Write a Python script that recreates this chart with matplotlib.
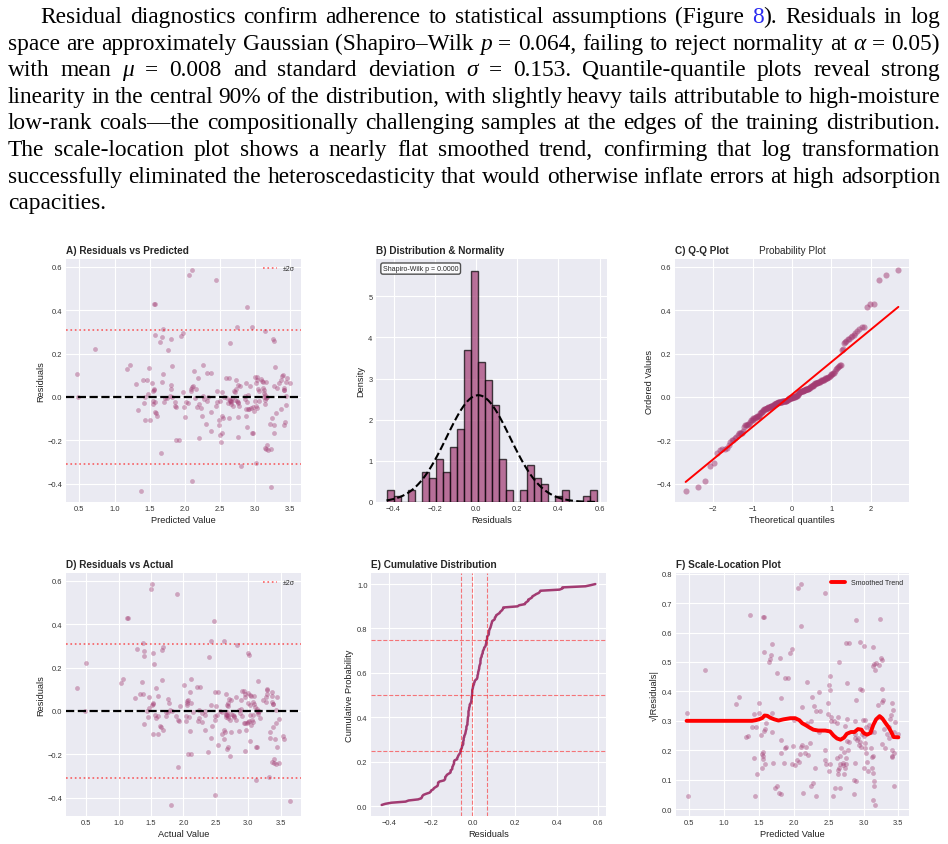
import re
from statistics import NormalDist

import matplotlib
matplotlib.use("Agg")
import matplotlib.pyplot as plt
import numpy as np

# (predicted, residual) pairs; actual = predicted - residual
PREDICTED = [
    0.462, 0.486, 0.724, 1.171, 1.214, 1.310, 1.338, 1.371, 1.405, 1.424,
    1.429, 1.440, 1.462, 1.476, 1.495, 1.505, 1.529, 1.543, 1.550, 1.552,
    1.557, 1.560, 1.562, 1.571, 1.571, 1.571, 1.581, 1.586, 1.605, 1.643,
    1.662, 1.671, 1.681, 1.686, 1.690, 1.705, 1.724, 1.752, 1.757, 1.790,
    1.800, 1.810, 1.810, 1.814, 1.814, 1.857, 1.867, 1.876, 1.881, 1.919,
    1.952, 1.976, 1.976, 1.990, 2.005, 2.014, 2.052, 2.057, 2.081, 2.086,
    2.100, 2.105, 2.105, 2.119, 2.124, 2.138, 2.157, 2.180, 2.190, 2.195,
    2.205, 2.233, 2.248, 2.252, 2.262, 2.276, 2.295, 2.310, 2.319, 2.324,
    2.367, 2.367, 2.371, 2.443, 2.450, 2.452, 2.457, 2.486, 2.490, 2.500,
    2.505, 2.514, 2.524, 2.524, 2.529, 2.538, 2.562, 2.581, 2.595, 2.620,
    2.624, 2.633, 2.638, 2.640, 2.643, 2.652, 2.657, 2.660, 2.667, 2.681,
    2.700, 2.710, 2.714, 2.724, 2.729, 2.738, 2.743, 2.750, 2.752, 2.757,
    2.757, 2.762, 2.771, 2.786, 2.795, 2.860, 2.862, 2.871, 2.871, 2.876,
    2.881, 2.886, 2.886, 2.895, 2.900, 2.914, 2.929, 2.943, 2.952, 2.952,
    2.967, 2.971, 2.981, 2.995, 3.000, 3.010, 3.010, 3.014, 3.020, 3.024,
    3.033, 3.038, 3.048, 3.057, 3.081, 3.095, 3.110, 3.114, 3.119, 3.124,
    3.130, 3.133, 3.133, 3.138, 3.140, 3.143, 3.148, 3.152, 3.157, 3.167,
    3.171, 3.176, 3.210, 3.224, 3.229, 3.238, 3.252, 3.267, 3.267, 3.271,
    3.271, 3.281, 3.300, 3.314, 3.333, 3.367, 3.371, 3.386, 3.395, 3.405,
    3.410, 3.410, 3.414, 3.424, 3.433, 3.438, 3.438, 3.448, 3.500,
]
RESIDUALS = [
    0.106, -0.002, 0.222, 0.128, 0.146, 0.060, -0.062, -0.434, 0.077, -0.030,
    -0.105, -0.002, 0.078, 0.014, 0.131, -0.106, 0.063, -0.020, -0.035, 0.029,
    0.428, 0.032, 0.038, 0.428, 0.285, -0.071, -0.023, -0.074, -0.086, 0.251,
    -0.260, 0.275, 0.068, 0.106, 0.315, -0.025, -0.005, -0.006, 0.214, 0.003,
    0.265, 0.055, 0.037, 0.142, -0.0025, -0.025, -0.043, -0.200, -0.045, -0.198,
    0.283, 0.295, 0.023, -0.046, -0.092, -0.022, -0.028, 0.563, 0.026, 0.035,
    0.045, 0.585, -0.388, 0.048, 0.120, -0.003, 0.037, -0.045, 0.085, -0.188,
    -0.034, -0.051, -0.089, 0.006, 0.145, -0.008, -0.123, -0.020, 0.112, -0.002,
    -0.069, -0.158, 0.111, 0.538, -0.040, 0.028, -0.023, -0.105, -0.131, -0.177,
    -0.017, -0.206, 0.023, -0.165, -0.089, -0.097, -0.002, 0.089, -0.005, -0.030,
    0.086, -0.098, -0.014, -0.018, 0.249, -0.020, -0.024, -0.033, -0.005, -0.043,
    0.025, 0.022, -0.014, 0.038, 0.080, -0.020, 0.320, -0.030, -0.024, -0.094,
    -0.185, 0.054, -0.040, 0.052, -0.320, -0.010, 0.0025, 0.065, -0.058, -0.089,
    -0.025, -0.137, 0.414, 0.009, -0.055, -0.058, 0.048, -0.052, 0.323, -0.168,
    -0.045, -0.165, -0.066, 0.091, -0.020, -0.306, 0.062, -0.043, -0.050, 0.092,
    0.078, 0.037, 0.026, -0.017, 0.082, 0.074, 0.069, 0.043, 0.020, 0.031,
    0.001, 0.303, -0.235, -0.015, -0.032, 0.009, -0.006, 0.069, -0.242, -0.222,
    -0.0002, -0.245, -0.126, -0.240, -0.417, -0.097, 0.265, 0.258, 0.049, -0.132,
    -0.166, 0.137, -0.074, 0.043, 0.065, -0.058, 0.077, 0.094, 0.103, 0.031,
    0.040, 0.033, -0.131, -0.114, 0.069, -0.037, 0.006, 0.088, 0.065,
]

# smoothed trend of panel F
TREND_X = [0.462, 1.40, 1.45, 1.50, 1.55, 1.58, 1.62, 1.66, 1.72, 1.78, 1.85,
           1.95, 2.02, 2.08, 2.12, 2.18, 2.22, 2.28, 2.35, 2.45, 2.52, 2.57,
           2.62, 2.67, 2.72, 2.76, 2.82, 2.87, 2.92, 2.97, 3.00, 3.05, 3.10,
           3.14, 3.18, 3.23, 3.27, 3.32, 3.36, 3.40, 3.43, 3.50]
TREND_Y = [0.300, 0.300, 0.302, 0.305, 0.310, 0.318, 0.317, 0.311, 0.305,
           0.301, 0.305, 0.309, 0.309, 0.302, 0.292, 0.284, 0.278, 0.270,
           0.267, 0.267, 0.264, 0.250, 0.240, 0.236, 0.243, 0.256, 0.262,
           0.262, 0.272, 0.270, 0.259, 0.253, 0.259, 0.286, 0.305, 0.316,
           0.308, 0.291, 0.278, 0.261, 0.245, 0.244]

SHAPIRO_LABEL = "Shapiro-Wilk p = 0.0000"
QUANTILE_LEVELS = [0.25, 0.50, 0.75]

# [i|x] = italic, [b|x] = blue link colour
PARAGRAPH = [
    "Residual diagnostics confirm adherence to statistical assumptions (Figure [b|8]). Residuals in log",
    "space are approximately Gaussian (Shapiro–Wilk [i|p] = 0.064, failing to reject normality at [i|α] = 0.05)",
    "with mean [i|μ] = 0.008 and standard deviation [i|σ] = 0.153.  Quantile-quantile plots reveal strong",
    "linearity in the central 90% of the distribution, with slightly heavy tails attributable to high-moisture",
    "low-rank coals—the compositionally challenging samples at the edges of the training distribution.",
    "The scale-location plot shows a nearly flat smoothed trend, confirming that log transformation",
    "successfully eliminated the heteroscedasticity that would otherwise inflate errors at high adsorption",
    "capacities.",
]

C = "#A23B72"
W, H = 948, 845

plt.style.use("seaborn-v0_8-darkgrid")
plt.rcParams["font.family"] = ["Liberation Sans", "DejaVu Sans"]
plt.rcParams.update({
    "axes.facecolor": "#EAEAF2",
    "grid.color": "white",
    "grid.linewidth": 0.8,
    "xtick.labelsize": 5.4,
    "ytick.labelsize": 5.4,
    "xtick.color": "#333333",
    "ytick.color": "#333333",
    "xtick.major.pad": 2.5,
    "ytick.major.pad": 2.5,
    "axes.labelsize": 6.7,
    "axes.labelcolor": "#222222",
    "axes.labelpad": 2.0,
})

fig = plt.figure(figsize=(W / 100, H / 100), dpi=100)
renderer = fig.canvas.get_renderer()


def px_axes(left, top, right, bottom):
    return fig.add_axes([left / W, 1 - bottom / H, (right - left) / W, (bottom - top) / H])


# ---- paragraph -------------------------------------------------------------
SERIF = dict(family=["Liberation Serif", "DejaVu Serif"], fontsize=14.6, color="black")


def segments(word):
    out = []
    for m in re.finditer(r"\[(\w)\|([^\]]*)\]|([^\[]+)", word):
        if m.group(3):
            out.append((m.group(3), {}))
        elif m.group(1) == "i":
            out.append((m.group(2), {"style": "italic"}))
        else:
            out.append((m.group(2), {"color": "#2B2BF0"}))
    return out


def seg_width(text, props):
    kw = dict(SERIF)
    kw.update(props)
    t = fig.text(0, 0, text, **kw)
    w = t.get_window_extent(renderer).width
    t.remove()
    return w


def natural(line):
    words = [segments(w) for w in line.split()]
    widths = [sum(seg_width(s, p) for s, p in segs) for segs in words]
    return words, widths


left_px, right_px = 8, 940
# scale the serif size so the tightest line fills the measure at normal spacing
sp = seg_width("a a", {}) - seg_width("aa", {})
need = []
for i, line in enumerate(PARAGRAPH[:-1]):
    _, wd = natural(line)
    x0 = 40 if i == 0 else left_px
    need.append((sum(wd) + 0.95 * sp * (len(wd) - 1)) / (right_px - x0))
SERIF["fontsize"] = 14.6 / max(need)

space = seg_width("a a", {}) - seg_width("aa", {})
for i, line in enumerate(PARAGRAPH):
    words, widths = natural(line)
    x0 = 40 if i == 0 else left_px
    last = i == len(PARAGRAPH) - 1
    gap = space if last else (right_px - x0 - sum(widths)) / (len(words) - 1)
    y = 23 + 26.6 * i
    x = x0
    for segs, wd in zip(words, widths):
        xs = x
        for s, p in segs:
            kw = dict(SERIF)
            kw.update(p)
            fig.text(xs / W, 1 - y / H, s, va="baseline", ha="left", **kw)
            xs += seg_width(s, p)
        x += wd + gap

# ---- data ------------------------------------------------------------------
pred = np.array(PREDICTED)
res = np.array(RESIDUALS)
actual = pred - res
n = len(res)
mu, sd = res.mean(), res.std()


def title(ax, text):
    ax.set_title(text, loc="left", fontweight="bold", fontsize=7.2, pad=4)


def resid_panel(ax, x, xlabel, name):
    ax.scatter(x, res, s=12, alpha=0.4, color=C, linewidths=0)
    ax.axhline(0, color="black", ls="--", lw=1.6)
    ax.axhline(2 * sd, color="red", ls=":", lw=1.2, alpha=0.6, label="±2σ")
    ax.axhline(-2 * sd, color="red", ls=":", lw=1.2, alpha=0.6)
    ax.legend(loc="upper right", fontsize=5, frameon=False)
    ax.set_xlabel(xlabel)
    ax.set_ylabel("Residuals")
    title(ax, name)


# A) residuals vs predicted
ax = px_axes(66, 260, 301, 503)
resid_panel(ax, pred, "Predicted Value", "A) Residuals vs Predicted")

# B) distribution
ax = px_axes(376, 260, 607, 503)
ax.hist(res, bins=30, density=True, color=C, alpha=0.7, edgecolor="black", linewidth=1.0)
xs = np.linspace(res.min(), res.max(), 100)
nd = NormalDist(mu, sd)
ax.plot(xs, [nd.pdf(v) for v in xs], "k--", lw=1.5)
ax.text(0.03, 0.975, SHAPIRO_LABEL, transform=ax.transAxes, va="top", ha="left", fontsize=5,
        bbox=dict(boxstyle="round,pad=0.3", facecolor="white", edgecolor="#333333", alpha=0.85))
ax.set_xlabel("Residuals")
ax.set_ylabel("Density")
title(ax, "B) Distribution & Normality")

# C) Q-Q plot (Filliben plotting positions)
ax = px_axes(675, 260, 909, 503)
osr = np.sort(res)
m = np.empty(n)
m[-1] = 0.5 ** (1.0 / n)
m[0] = 1 - m[-1]
m[1:-1] = (np.arange(2, n) - 0.3175) / (n + 0.365)
osm = np.array([NormalDist().inv_cdf(p) for p in m])
slope, intercept = np.polyfit(osm, osr, 1)
ax.plot(osm, osr, "o", color=C, alpha=0.5, markersize=4.4, markeredgewidth=0)
ax.plot(osm, slope * osm + intercept, "r-", lw=1.4)
ax.set_title("Probability Plot", fontsize=7.2, pad=4)
title(ax, "C) Q-Q Plot")
ax.set_xlabel("Theoretical quantiles")
ax.set_ylabel("Ordered Values")

# D) residuals vs actual
ax = px_axes(66, 574, 301, 817)
resid_panel(ax, actual, "Actual Value", "D) Residuals vs Actual")

# E) cumulative distribution
ax = px_axes(371, 574, 606, 817)
ax.plot(osr, np.arange(1, n + 1) / n, color=C, lw=1.8)
for q in np.quantile(res, QUANTILE_LEVELS):
    ax.axvline(q, color="red", ls="--", lw=0.8, alpha=0.5)
for p in QUANTILE_LEVELS:
    ax.axhline(p, color="red", ls="--", lw=0.8, alpha=0.5)
ax.set_xlabel("Residuals")
ax.set_ylabel("Cumulative Probability")
title(ax, "E) Cumulative Distribution")

# F) scale-location
ax = px_axes(676, 574, 909, 817)
sqrt_abs = np.sqrt(np.abs(res))
ax.scatter(pred, sqrt_abs, s=12, alpha=0.4, color=C, linewidths=0)
ax.plot(TREND_X, TREND_Y, color="red", lw=2.8, label="Smoothed Trend")
ax.legend(loc="upper right", fontsize=5, frameon=False)
ax.set_xlabel("Predicted Value")
ax.set_ylabel("√|Residuals|")
title(ax, "F) Scale-Location Plot")

fig.savefig("out.png", dpi=100, facecolor="white")
